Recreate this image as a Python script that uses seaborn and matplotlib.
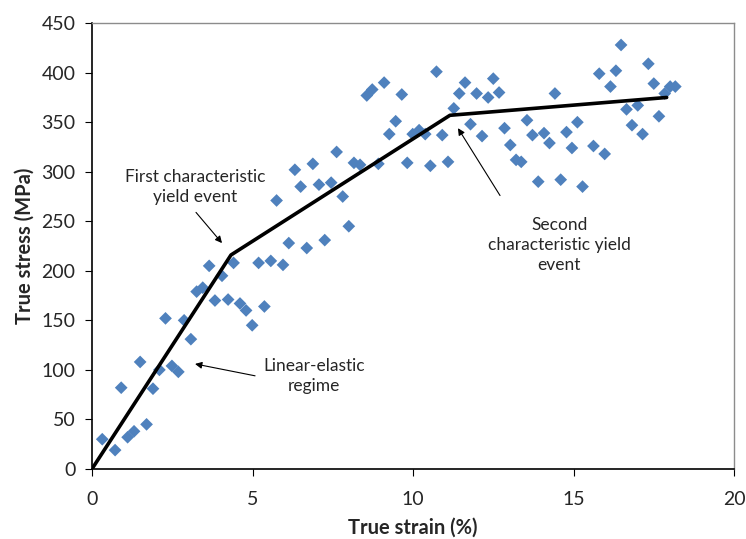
import matplotlib
matplotlib.use("Agg")
import matplotlib.pyplot as plt
import seaborn as sns
import pandas as pd

strain = [0.32, 0.72, 0.91, 1.11, 1.31, 1.50, 1.70, 1.90, 2.10, 2.29, 2.49, 2.69, 2.87, 3.08,
          3.26, 3.45, 3.65, 3.83, 4.05, 4.24, 4.41, 4.61, 4.80, 4.99, 5.19, 5.37, 5.57, 5.75,
          5.95, 6.13, 6.32, 6.50, 6.69, 6.88, 7.07, 7.25, 7.45, 7.62, 7.81, 8.00, 8.16, 8.35,
          8.56, 8.73, 8.92, 9.10, 9.26, 9.46, 9.65, 9.82, 9.99, 10.19, 10.38, 10.54, 10.73,
          10.91, 11.09, 11.27, 11.44, 11.62, 11.79, 11.98, 12.15, 12.34, 12.50, 12.68, 12.85,
          13.03, 13.21, 13.37, 13.55, 13.72, 13.90, 14.08, 14.25, 14.42, 14.60, 14.78, 14.95,
          15.12, 15.28, 15.62, 15.80, 15.97, 16.15, 16.32, 16.48, 16.65, 16.82, 17.00, 17.15,
          17.33, 17.50, 17.66, 17.84, 18.01, 18.17]
stress = [30, 19, 82, 32, 38, 108, 45, 81, 100, 152, 104, 98, 150, 131,
          179, 183, 205, 170, 195, 171, 208, 167, 160, 145, 208, 164, 210, 271,
          206, 228, 302, 285, 223, 308, 287, 231, 289, 320, 275, 245, 309, 307,
          377, 383, 308, 390, 338, 351, 378, 309, 338, 342, 338, 306, 401,
          337, 310, 364, 379, 390, 348, 379, 336, 375, 394, 380, 344,
          327, 312, 310, 352, 337, 290, 339, 329, 379, 292, 340, 324,
          350, 285, 326, 399, 318, 386, 402, 428, 363, 347, 367, 338,
          409, 389, 356, 379, 386, 386]

fit_strain = [0, 4.33, 11.15, 17.9]
fit_stress = [0, 216, 357, 375]

x_ticks = [0, 5, 10, 15, 20]
y_ticks = [0, 50, 100, 150, 200, 250, 300, 350, 400, 450]

sns.set_theme(style="white")
plt.rcParams['font.family'] = ['Lato', 'DejaVu Sans']

df = pd.DataFrame({"strain": strain, "stress": stress})
fit = pd.DataFrame({"strain": fit_strain, "stress": fit_stress})

fig = plt.figure(figsize=(7.46, 5.39), dpi=100)
ax = fig.add_axes([0.1233, 0.13, 0.8607, 0.827])

sns.scatterplot(data=df, x="strain", y="stress", marker="D", s=42, color="#4F81BD",
                edgecolor="none", ax=ax, zorder=3)
sns.lineplot(data=fit, x="strain", y="stress", color="black", linewidth=2.6, ax=ax,
             zorder=4, sort=False)

ax.set_xlim(0, 20)
ax.set_ylim(0, 450)
ax.set_xticks(x_ticks)
ax.set_yticks(y_ticks)
ax.tick_params(axis="both", labelsize=14, direction="out", length=5, width=0.8,
               color="black", left=True, bottom=True)
ax.tick_params(axis="x", pad=11)
ax.tick_params(axis="y", pad=7)
for side in ["left", "bottom"]:
    ax.spines[side].set_color("black")
    ax.spines[side].set_linewidth(1.2)
for side in ["top", "right"]:
    ax.spines[side].set_color("#8c8c8c")
    ax.spines[side].set_linewidth(1.0)

ax.set_xlabel("True strain (%)", fontsize=14.5, fontweight="bold", labelpad=7)
ax.set_ylabel("True stress (MPa)", fontsize=14.5, fontweight="bold", labelpad=5)

ann_kw = dict(fontsize=12, ha="center", va="center",
              arrowprops=dict(arrowstyle="-|>", color="black", lw=0.8,
                              mutation_scale=10, shrinkA=0, shrinkB=0))
ax.annotate("", xy=(4.05, 228), xytext=(3.24, 259), **ann_kw)
ax.text(3.21, 285, "First characteristic\nyield event", fontsize=12.5, ha="center",
        va="center", linespacing=1.3)
ax.annotate("", xy=(3.21, 106), xytext=(5.08, 94), **ann_kw)
ax.text(6.92, 94, "Linear-elastic\nregime", fontsize=12.5, ha="center", va="center",
        linespacing=1.3)
ax.annotate("", xy=(11.4, 344), xytext=(12.71, 276), **ann_kw)
ax.text(14.55, 226, "Second\ncharacteristic yield\nevent", fontsize=12.5, ha="center",
        va="center", linespacing=1.3)

fig.savefig("out.png", dpi=100)
